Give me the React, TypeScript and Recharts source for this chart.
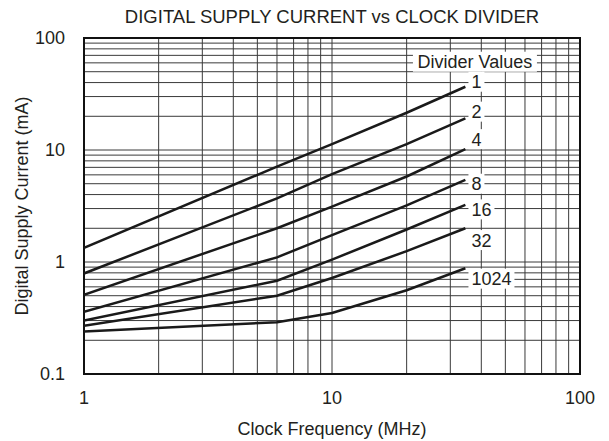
import React from 'react'
import { LineChart, Line, XAxis, YAxis, CartesianGrid, ReferenceArea, ReferenceDot, Label } from 'recharts'

// clock frequency (MHz) sample points, kink near 6 MHz
const freq = [1, 6, 10, 20, 34.5]

const div1 = [1.34, 7.1, 11.3, 21.5, 36.7]
const div2 = [0.79, 3.7, 6.1, 11.3, 19.2]
const div4 = [0.51, 2.0, 3.12, 5.8, 10.2]
const div8 = [0.36, 1.1, 1.74, 3.2, 5.4]
const div16 = [0.3, 0.68, 1.05, 1.95, 3.23]
const div32 = [0.27, 0.5, 0.72, 1.25, 2.0]
const div1024 = [0.24, 0.29, 0.35, 0.56, 0.88]

const dividers = ['1', '2', '4', '8', '16', '32', '1024']
const labelY = [40.7, 22, 12.5, 5.0, 2.95, 1.57, 0.71]
const labelX = 36.5

const xTicks = [1, 2, 3, 4, 5, 6, 7, 8, 9, 10, 20, 30, 40, 50, 60, 70, 80, 90, 100]
const yTicks = [
  0.1, 0.2, 0.3, 0.4, 0.5, 0.6, 0.7, 0.8, 0.9,
  1, 2, 3, 4, 5, 6, 7, 8, 9,
  10, 20, 30, 40, 50, 60, 70, 80, 90, 100,
]
const decades = [0.1, 1, 10, 100]

const series = [div1, div2, div4, div8, div16, div32, div1024]

const data = freq.map((f, i) => {
  const row: Record<string, number> = { f }
  series.forEach((s, k) => {
    row['d' + dividers[k]] = s[i]
  })
  return row
})

const FONT = 'Arial, "Liberation Sans", sans-serif'
const INK = '#231f20'

const BoxedText = ({ cx, cy, text, anchor, w }: any) => {
  const x0 = anchor === 'middle' ? cx - w / 2 : cx
  return (
    <g>
      <rect x={x0 - 3} y={cy - 10} width={w + 6} height={20} fill="#fff" />
      <text x={cx} y={cy} dy="0.36em" textAnchor={anchor} fontFamily={FONT} fontSize={18} fill={INK}>
        {text}
      </text>
    </g>
  )
}

export default function App() {
  return (
    <div style={{ position: 'absolute', left: 0, top: 0, width: 609, height: 441, background: '#fff' }}>
      <div
        style={{
          position: 'absolute',
          left: 84,
          width: 496,
          top: 6,
          textAlign: 'center',
          fontFamily: FONT,
          fontSize: 18.5,
          color: INK,
          whiteSpace: 'nowrap',
        }}
      >
        DIGITAL SUPPLY CURRENT vs CLOCK DIVIDER
      </div>
      <LineChart width={609} height={441} data={data} margin={{ top: 38, right: 29, bottom: 0, left: 0 }}>
        <CartesianGrid stroke="#3a3a3a" strokeWidth={1} />
        <XAxis
          dataKey="f"
          type="number"
          scale="log"
          domain={[1, 100]}
          ticks={xTicks}
          interval={0}
          allowDataOverflow
          height={67}
          tickSize={0}
          tickMargin={17}
          tickLine={false}
          axisLine={false}
          tickFormatter={(v: number) => (v === 1 || v === 10 || v === 100 ? String(v) : '')}
          tick={{ fontFamily: FONT, fontSize: 18, fill: INK }}
        >
          <Label
            value="Clock Frequency (MHz)"
            position="insideBottom"
            offset={6}
            style={{ fontFamily: FONT, fontSize: 18, fill: INK }}
          />
        </XAxis>
        <YAxis
          type="number"
          scale="log"
          domain={[0.1, 100]}
          ticks={yTicks}
          interval={0}
          allowDataOverflow
          width={84}
          tickSize={0}
          tickMargin={19}
          tickLine={false}
          axisLine={false}
          tickFormatter={(v: number) => (decades.includes(v) ? String(v) : '')}
          tick={{ fontFamily: FONT, fontSize: 18, fill: INK }}
        >
          <Label
            content={({ viewBox }: any) => {
              const cy = viewBox.y + viewBox.height / 2
              const cx = 22
              return (
                <text
                  x={cx}
                  y={cy}
                  transform={`rotate(-90 ${cx} ${cy})`}
                  textAnchor="middle"
                  dy="0.36em"
                  fontFamily={FONT}
                  fontSize={18}
                  fill={INK}
                >
                  Digital Supply Current (mA)
                </text>
              )
            }}
          />
        </YAxis>
        <ReferenceArea x1={1} x2={100} y1={0.1} y2={100} fill="none" fillOpacity={0} stroke="#111" strokeWidth={2} />
        {dividers.map((d) => (
          <Line
            key={d}
            dataKey={'d' + d}
            type="linear"
            stroke="#1a1a1a"
            strokeWidth={2.5}
            dot={false}
            activeDot={false}
            isAnimationActive={false}
          />
        ))}
        <ReferenceDot
          x={37.7}
          y={61.4}
          r={0}
          shape={(p: any) => <BoxedText cx={p.cx} cy={p.cy} text="Divider Values" anchor="middle" w={118} />}
        />
        {dividers.map((d, i) => (
          <ReferenceDot
            key={'l' + d}
            x={labelX}
            y={labelY[i]}
            r={0}
            shape={(p: any) => <BoxedText cx={p.cx} cy={p.cy} text={d} anchor="start" w={d.length * 10} />}
          />
        ))}
      </LineChart>
    </div>
  )
}
